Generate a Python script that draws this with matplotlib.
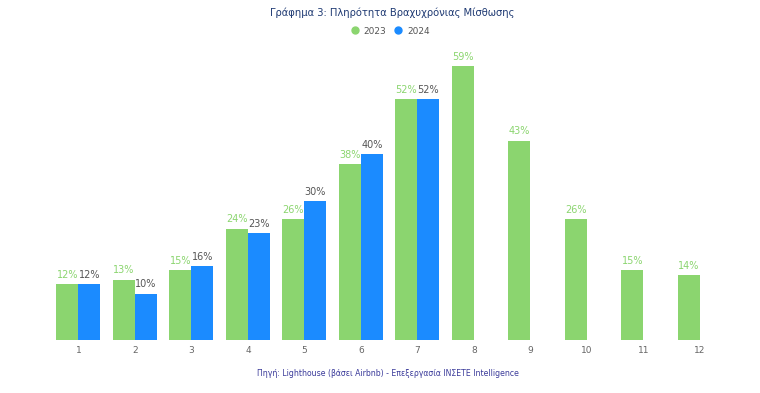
import matplotlib
matplotlib.use("Agg")
import matplotlib.pyplot as plt
import numpy as np
from matplotlib.lines import Line2D

months = ["1", "2", "3", "4", "5", "6", "7", "8", "9", "10", "11", "12"]
occ_2023 = [12, 13, 15, 24, 26, 38, 52, 59, 43, 26, 15, 14]
occ_2024 = [12, 10, 16, 23, 30, 40, 52]
series_names = ["2023", "2024"]
title = "Γράφημα 3: Πληρότητα Βραχυχρόνιας Μίσθωσης"
source = "Πηγή: Lighthouse (βάσει Airbnb) - Επεξεργασία INΣΕΤΕ Intelligence"

green = "#8bd56f"
blue = "#1b8bff"
navy = "#1f3a73"

plt.rcParams['font.family'] = ['DejaVu Sans']
fig = plt.figure(figsize=(7.6, 3.93), dpi=100)
ax = fig.add_axes([0.066, 0.135, 0.892, 0.708])

x = np.arange(1, len(months) + 1)
w = 0.39
ax.bar(x[:len(occ_2023)] - w / 2, occ_2023, width=w, color=green)
ax.bar(x[:len(occ_2024)] + w / 2, occ_2024, width=w, color=blue)

for xi, v in zip(x, occ_2023):
    ax.annotate(f"{v}%", (xi - w / 2, v), xytext=(0, 3), textcoords="offset points",
                ha="center", va="bottom", fontsize=7, color=green)
for xi, v in zip(x, occ_2024):
    ax.annotate(f"{v}%", (xi + w / 2, v), xytext=(0, 3), textcoords="offset points",
                ha="center", va="bottom", fontsize=7, color="#555555")

ax.set_xlim(0.5, 12.5)
ax.set_ylim(0, 60)
ax.set_xticks(x)
ax.set_xticklabels(months, fontsize=6.5, color="#666666")
ax.tick_params(axis="x", length=0, pad=4)
ax.set_yticks([])
for s in ax.spines.values():
    s.set_visible(False)

fig.text(0.516, 0.968, title, ha="center", va="center", fontsize=7.2, color=navy)

handles = [Line2D([], [], marker="o", linestyle="", color=green, markersize=5),
           Line2D([], [], marker="o", linestyle="", color=blue, markersize=5)]
fig.legend(handles, series_names, loc="center", bbox_to_anchor=(0.51, 0.921),
           ncol=2, frameon=False, fontsize=6.5, handletextpad=0.0, columnspacing=0.3,
           labelcolor="#555555")

fig.text(0.51, 0.05, source, ha="center", va="center", fontsize=5.6, color="#3a3a9a")

fig.savefig("out.png", dpi=100)
